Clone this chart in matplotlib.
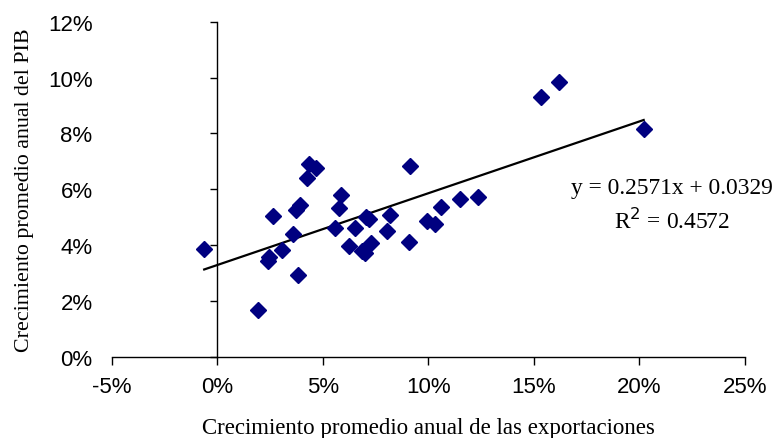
import numpy as np
import matplotlib
matplotlib.use("Agg")
import matplotlib.pyplot as plt
from matplotlib.ticker import PercentFormatter

plt.rcParams['axes.unicode_minus'] = False

# crecimiento promedio anual (%)
exportaciones = [-0.63, 1.94, 2.38, 2.46, 2.65, 3.08, 3.57, 3.73, 3.92, 3.84,
                 4.23, 4.34, 4.67, 5.86, 5.78, 5.56, 6.50, 6.23, 6.84, 6.98,
                 7.27, 7.05, 7.16, 8.19, 8.03, 9.10, 9.14, 9.93, 10.32, 10.61,
                 11.51, 12.35, 15.31, 16.17, 20.20]
pib = [3.85, 1.67, 3.43, 3.59, 5.04, 3.81, 4.39, 5.25, 5.44, 2.93,
       6.39, 6.91, 6.76, 5.80, 5.32, 4.63, 4.63, 3.96, 3.79, 3.72,
       4.07, 5.00, 4.93, 5.08, 4.51, 4.11, 6.84, 4.87, 4.75, 5.37,
       5.65, 5.71, 9.31, 9.83, 8.15]
pendiente = 0.2571
intercepto = 0.0329
r2 = 0.4572

x = np.array(exportaciones) / 100
y = np.array(pib) / 100

fig = plt.figure(figsize=(7.76, 4.39), dpi=100)
ax = fig.add_axes([0.1443, 0.185, 0.8157, 0.763])

ax.plot(x, y, 'D', color='#000080', markersize=8, zorder=3)

# linea de tendencia
xt = np.array([x.min(), x.max()])
ax.plot(xt, pendiente * xt + intercepto, color='black', lw=1.6, zorder=2)

ax.set_xlim(-0.05, 0.25)
ax.set_ylim(0, 0.12)
ax.set_xticks(np.arange(-0.05, 0.2501, 0.05))
ax.set_yticks(np.arange(0, 0.1201, 0.02))
ax.xaxis.set_major_formatter(PercentFormatter(1.0, decimals=0))
ax.yaxis.set_major_formatter(PercentFormatter(1.0, decimals=0))

for s in ['top', 'right', 'left']:
    ax.spines[s].set_visible(False)
ax.spines['bottom'].set_linewidth(1.0)
ax.tick_params(axis='x', direction='out', length=6, width=1, pad=8, labelsize=16)
ax.tick_params(axis='y', length=0, pad=14, labelsize=16)
for lab in ax.get_xticklabels() + ax.get_yticklabels():
    lab.set_family('Liberation Sans')

# eje vertical en x = 0
eje = ax.secondary_yaxis(1 / 6)
eje.set_yticks(np.arange(0, 0.1201, 0.02))
eje.tick_params(axis='y', direction='out', length=5, width=1, labelleft=False)
eje.spines['left'].set_linewidth(1.0)

ax.set_xlabel('Crecimiento promedio anual de las exportaciones',
              family='Liberation Serif', fontsize=16.5, labelpad=14)
ax.set_ylabel('Crecimiento promedio anual del PIB',
              family='Liberation Serif', fontsize=15.8, labelpad=10)

ax.text(0.2155, 0.0608, f'y = {pendiente}x + {intercepto}',
        family='Liberation Serif', fontsize=16.9, ha='center', va='center')
ax.text(0.2155, 0.0490, f'R$^2$ = {r2}',
        family='Liberation Serif', fontsize=16.9, ha='center', va='center')

fig.savefig('out.png', dpi=100)
